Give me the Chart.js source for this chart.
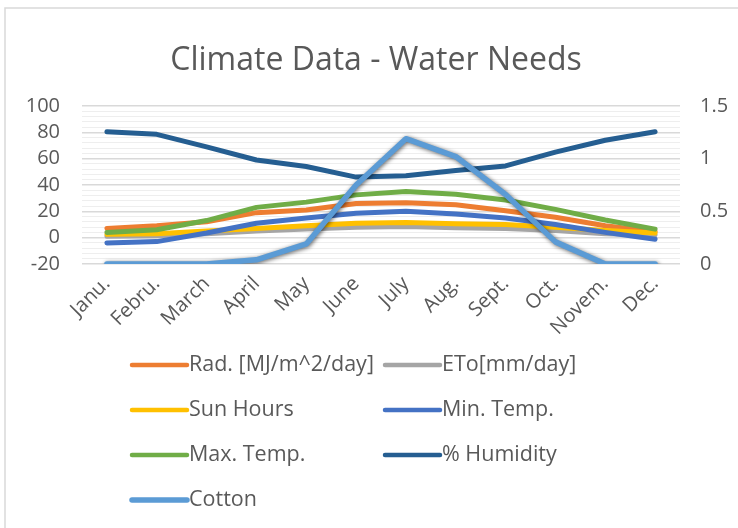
<!DOCTYPE html>
<html>
<head>
<meta charset="utf-8">
<script src="https://cdn.jsdelivr.net/npm/chart.js@4"></script>
<style>
  html, body { margin: 0; padding: 0; background: #fff; }
  #wrap { position: relative; width: 738px; height: 528px; }
</style>
</head>
<body>
<div id="wrap"><canvas id="climate-chart" width="738" height="528"></canvas></div>
<script>
// Climate Data - Water Needs
const months = ["Janu.", "Febru.", "March", "April", "May", "June", "July", "Aug.", "Sept.", "Oct.", "Novem.", "Dec."];

const radiation = [7, 9, 12, 19, 21, 26, 26.5, 25, 20.5, 15.5, 9, 4.5];
const eto = [1, 1.5, 3, 5, 6.5, 8, 8.5, 7.5, 7, 5.5, 3, 2];
const sunHours = [2.5, 3, 5, 7, 9, 11, 11.5, 10.5, 10, 8, 5.5, 3.5];
const minTemp = [-4, -3, 3.5, 11, 15, 18.5, 20, 18, 15, 10, 4, -1.2];
const maxTemp = [4, 6, 13, 23, 27, 32.5, 35, 33, 28.6, 21.5, 13.4, 6.5];
const humidity = [80.5, 78.5, 69, 59, 54, 46, 47, 51, 54.5, 65, 74, 80.5];
const cotton = [0, 0, 0, 0.04, 0.19, 0.75, 1.19, 1.02, 0.66, 0.21, 0, 0];

const leftTicks = [-20, 0, 20, 40, 60, 80, 100];
const rightTicks = [0, 0.5, 1, 1.5];

const FONT = "'Open Sans', Lato, sans-serif";
const GREY = "#595959";

function line(label, data, color, order, extra) {
  return Object.assign({
    label, data, order,
    borderColor: color,
    backgroundColor: color,
    borderWidth: 5,
    borderCapStyle: "round",
    borderJoinStyle: "round",
    pointRadius: 0,
    tension: 0,
    yAxisID: "y",
  }, extra || {});
}

// dark soft shadow under the Cotton line, Excel style
const shadowPlugin = {
  id: "cottonShadow",
  beforeDatasetDraw(chart, args) {
    if (chart.data.datasets[args.index].label !== "Cotton") return;
    const ctx = chart.ctx;
    ctx.save();
    ctx.shadowColor = "rgba(0,0,0,0.6)";
    ctx.shadowBlur = 4;
    ctx.shadowOffsetX = 1;
    ctx.shadowOffsetY = 1;
  },
  afterDatasetDraw(chart, args) {
    if (chart.data.datasets[args.index].label !== "Cotton") return;
    chart.ctx.restore();
  },
};

// frame, title and two-column legend
const decorPlugin = {
  id: "decor",
  beforeDraw(chart) {
    const ctx = chart.ctx;
    ctx.save();
    ctx.strokeStyle = "#d9d9d9";
    ctx.lineWidth = 1.5;
    ctx.beginPath();
    ctx.moveTo(5, 528);
    ctx.lineTo(5, 8);
    ctx.lineTo(738, 8);
    ctx.stroke();
    ctx.restore();
  },
  afterDraw(chart) {
    const ctx = chart.ctx;
    ctx.save();
    ctx.fillStyle = GREY;
    ctx.font = "32px " + FONT;
    ctx.textAlign = "center";
    ctx.textBaseline = "middle";
    ctx.fillText("Climate Data - Water Needs", 376, 61);

    ctx.font = "21.5px " + FONT;
    ctx.textAlign = "left";
    chart.data.datasets.forEach((ds, i) => {
      const col = i % 2, row = Math.floor(i / 2);
      const x0 = col ? 385 : 132;
      const y = 365 + row * 45;
      ctx.strokeStyle = ds.borderColor;
      ctx.lineWidth = ds.label === "Cotton" ? 5.5 : 4.5;
      ctx.lineCap = "round";
      ctx.beginPath();
      ctx.moveTo(x0, y);
      ctx.lineTo(x0 + 55, y);
      ctx.stroke();
      ctx.fillStyle = GREY;
      ctx.fillText(ds.label, x0 + 57, y);
    });
    ctx.restore();
  },
};

const ctx = document.getElementById("climate-chart").getContext("2d");
new Chart(ctx, {
  type: "line",
  data: {
    labels: months,
    datasets: [
      line("Rad. [MJ/m^2/day]", radiation, "#ED7D31", 6),
      line("ETo[mm/day]", eto, "#A5A5A5", 5),
      line("Sun Hours", sunHours, "#FFC000", 4),
      line("Min. Temp.", minTemp, "#4472C4", 3),
      line("Max. Temp.", maxTemp, "#70AD47", 2),
      line("% Humidity", humidity, "#255E91", 1),
      line("Cotton", cotton, "#5B9BD5", 0, { yAxisID: "y2", borderWidth: 5.5 }),
    ],
  },
  options: {
    responsive: false,
    animation: false,
    layout: { padding: { top: 106, bottom: 190, left: 0, right: 0 } },
    plugins: {
      legend: { display: false },
      title: { display: false },
      tooltip: { enabled: false },
    },
    scales: {
      x: {
        offset: true,
        grid: { display: false },
        border: { display: false },
        ticks: {
          color: GREY,
          font: { family: FONT, size: 20 },
          maxRotation: 45,
          minRotation: 45,
          autoSkip: false,
          padding: 0,
        },
        afterFit(s) { s.height = 74; },
      },
      y: {
        position: "left",
        min: -20,
        max: 100,
        border: { display: false },
        ticks: {
          stepSize: 4,
          autoSkip: false,
          color: GREY,
          font: { family: FONT, size: 20 },
          padding: 22,
          callback: (v) => (leftTicks.includes(v) ? String(v) : ""),
        },
        grid: {
          drawTicks: false,
          lineWidth: (c) => (leftTicks.includes(c.tick.value) ? 1.5 : 1),
          color: (c) => (leftTicks.includes(c.tick.value) ? "#d9d9d9" : "#eeeeee"),
        },
        afterFit(s) { s.width = 82; },
      },
      y2: {
        position: "right",
        min: 0,
        max: 1.5,
        border: { display: false },
        grid: { display: false, drawTicks: false },
        ticks: {
          stepSize: 0.5,
          color: GREY,
          font: { family: FONT, size: 20 },
          padding: 20,
          callback: (v) => (rightTicks.includes(v) ? String(v) : ""),
        },
        afterFit(s) { s.width = 58; },
      },
    },
  },
  plugins: [shadowPlugin, decorPlugin],
});
</script>
</body>
</html>
